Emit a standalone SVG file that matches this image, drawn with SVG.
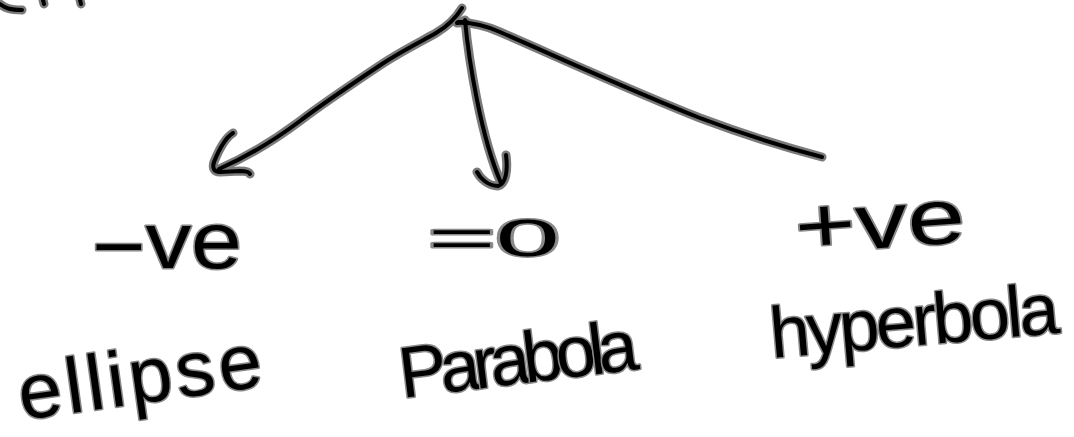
<svg xmlns="http://www.w3.org/2000/svg" xmlns:xlink="http://www.w3.org/1999/xlink" width="1074" height="437" viewBox="0 0 1074 437">
  <style>
    .halo { fill: none; stroke: #7a7a7a; stroke-width: 9; stroke-linecap: round; stroke-linejoin: round; }
    .ink { fill: none; stroke: #000; stroke-width: 4; stroke-linecap: round; stroke-linejoin: round; }
    .lbl { font-family: "Liberation Sans", "DejaVu Sans", sans-serif; fill: #000; stroke: #8a8a8a; stroke-width: 3; paint-order: stroke; stroke-linejoin: round; }
  </style>
  <defs>
    <path id="c-left" d="M462,8 C456,18 448,26 436,33 C420,42 400,52 382,64 C352,84 322,104 300,121 C272,142 244,158 219,169"/>
    <path id="c-left-head" d="M233,133 C225,138 218,152 214,162 C212,168 214,172 220,172 L240,171 C245,171 249,172 250,174"/>
    <path id="c-mid" d="M458,22 L467,22 M465,20 C467,42 471,70 477,100 C483,130 491,160 501,183"/>
    <path id="c-mid-head" d="M477,172 C480,178 488,186 498,186 C506,184 508,170 506,155"/>
    <path id="c-right" d="M457,23 C472,22 486,26 500,32 C560,58 620,86 700,118 C740,133 780,146 822,157"/>
    <path id="frag" d="M0,4 C5,8 10,10 22,10 M43,0 L44,4 M80,0 L81,4"/>
  </defs>

  <g id="top-fragment">
    <use xlink:href="#frag" class="halo"/>
    <use xlink:href="#frag" class="ink"/>
  </g>

  <g id="connectors">
    <use xlink:href="#c-left" class="halo"/>
    <use xlink:href="#c-left-head" class="halo"/>
    <use xlink:href="#c-mid" class="halo"/>
    <use xlink:href="#c-mid-head" class="halo"/>
    <use xlink:href="#c-right" class="halo"/>
    <use xlink:href="#c-left" class="ink"/>
    <use xlink:href="#c-left-head" class="ink"/>
    <use xlink:href="#c-mid" class="ink"/>
    <use xlink:href="#c-mid-head" class="ink"/>
    <use xlink:href="#c-right" class="ink"/>
  </g>

  <g id="node-neg">
    <text class="lbl" x="92" y="268" font-size="80" textLength="150" lengthAdjust="spacingAndGlyphs"><tspan dy="6">−</tspan><tspan dy="-6">ve</tspan></text>
  </g>
  <g id="node-zero">
    <text class="lbl" x="428" y="256" font-size="52" textLength="132" lengthAdjust="spacingAndGlyphs">=0</text>
  </g>
  <g id="node-pos">
    <text class="lbl" x="795" y="248" font-size="78" textLength="170" lengthAdjust="spacingAndGlyphs" transform="rotate(-4 880 225)">+ve</text>
  </g>
  <g id="node-ellipse">
    <text class="lbl" x="22" y="420" font-size="78" textLength="245" lengthAdjust="spacing" transform="rotate(-8 22 420)">ellipse</text>
  </g>
  <g id="node-parabola">
    <text class="lbl" x="402" y="398" font-size="72" textLength="240" lengthAdjust="spacing" transform="rotate(-7 402 398)">Parabola</text>
  </g>
  <g id="node-hyperbola">
    <text class="lbl" x="772" y="358" font-size="72" textLength="290" lengthAdjust="spacing" transform="rotate(-5 772 358)">hyperbola</text>
  </g>
</svg>
